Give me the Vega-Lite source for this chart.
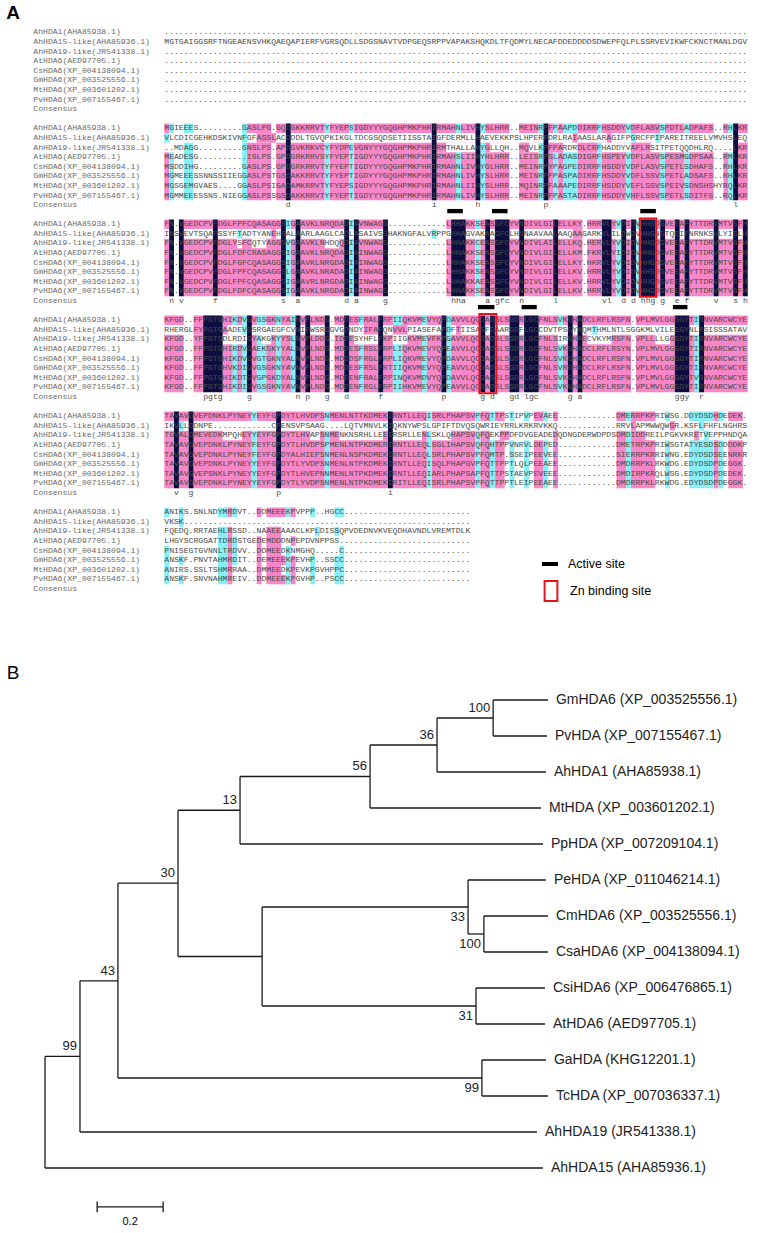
{
"$schema":"https://vega.github.io/schema/vega-lite/v6.json",
"width":776,"height":1233,"padding":0,"autosize":{"type":"none"},
"config":{"view":{"stroke":null},"legend":{"labelFont":"Liberation Sans","labelFontSize":12.5,"labelColor":"#000","padding":0,"labelOffset":10,"symbolSize":256,"titlePadding":0}},
"datasets":{
"rows":[
{"g":0,"name":"AhHDA1(AHA85938.1)","seq":"........................................................................................................................"},
{"g":1,"name":"AhHDA15-like(AHA85936.1)","seq":"MGTGAIGGSRFTNGEAENSVHKQAEQAPIERFVGRSQDLLSDGSNAVTVDPGEQSRPPVAPAKSHQKDLTFQDMYLNECAFDDEDDDDSDWEPFQLPLSSRVEVIKWFCKNCTMANLDGV"},
{"g":2,"name":"AhHDA19-like(JR541338.1)","seq":"........................................................................................................................"},
{"g":3,"name":"AtHDA6(AED97705.1)","seq":"........................................................................................................................"},
{"g":4,"name":"CsHDA6(XP_004138094.1)","seq":"........................................................................................................................"},
{"g":5,"name":"GmHDA6(XP_003525556.1)","seq":"........................................................................................................................"},
{"g":6,"name":"MtHDA6(XP_003601202.1)","seq":"........................................................................................................................"},
{"g":7,"name":"PvHDA6(XP_007155467.1)","seq":"........................................................................................................................"},
{"g":8,"name":"Consensus","seq":""},
{"g":10,"name":"AhHDA1(AHA85938.1)","seq":"MGIEEES.........GASLPG.GQDGKKRRVTYFYEPSIGDYYYGQGHPMKPHRIRMAHNLIVHYSLHRR..MEINRPFPAAPDDIRRFHSDDYVDFLASVSPDTLADPAFS..RHLKR"},
{"g":11,"name":"AhHDA15-like(AHA85936.1)","seq":"VLCDICGEHKDSKIVNFGFASSLACDDDLTGVQPKIKGLTDCGSQDSETIISSTAIGFDERMLLHAEVEKKPSLHPERPDRLRAIAASLARAGIFPGRCFPIPAREITREELVMVHSLEQ"},
{"g":12,"name":"AhHDA19-like(JR541338.1)","seq":"..MDAGG.........GNSLPS.APDGVKRKVCYFYDPEVGNYYYGQGHPMKPHRIRMTHALLAHYGLLQH..MQVLKPFPARDRDLCRFHADDYVAFLRSITPETQQDHLRQ....LKR"},
{"g":13,"name":"AtHDA6(AED97705.1)","seq":"MEADESG..........ISLPS.GPDGRKRRVSYFYEPTIGDYYYGQGHPMKPHRIRMAHSLIIHYHLHRR..LEISRPSLADASDIGRFHSPEYVDFLASVSPESMGDPSAA..RMLKR"},
{"g":14,"name":"CsHDA6(XP_004138094.1)","seq":"MSDDIHG.........GASLPS.GPDGRKRRVTYFYEPTIGDYYYGQGHPMKPHRIRMAHNLIVHYGLHRR..MEINRPYPAGPEDIRRFHSDDYVDFLASVSPETLSDHAFS..RHLKR"},
{"g":15,"name":"GmHDA6(XP_003525556.1)","seq":"MGMEEESSNNSSIIEGGASLPSTGSDAKKRRVTYFYEPTIGDYYYGQGHPMKPHRIRMAHNLIVHYSLHRR..MEINRPFPASPADIRRFHSDDYVDFLSSVSPETLADSAFS..RHLKR"},
{"g":16,"name":"MtHDA6(XP_003601202.1)","seq":"MGSGEMGVAES....GGASLPSIGADAMKRRVTYFYEPSIGDYYYGQGHPMKPHRIRMAHNLIIHYSLHRR..MQINRPFAAAPEDIRRFHSDDYVEFLSSVSPEIVSDNSHSHYRQLKR"},
{"g":17,"name":"PvHDA6(XP_007155467.1)","seq":"MGMMEEESSNS.NIEGGASLPSSGSDAKKRRVTYFYEPTIGDYYYGQGHPMKPHRIRMAHNLIVHYSLHRR..MEINRPFPASTADIRRFHSDDYVHFLSSVSPETLSDITFS..RQLKR"},
{"g":18,"name":"Consensus","seq":""},
{"g":20,"name":"AhHDA1(AHA85938.1)","seq":"FN.VGEDCPVFDGLFPFCQASAGGSIGAAVKLNRQDADIAVNWAGG............LHHAKKSEASGFCYVNDIVLGILELLKY.HRRVLYVDIDVHHGDGVEEAFYTTDRVMTVSFH"},
{"g":21,"name":"AhHDA15-like(AHA85936.1)","seq":"INSVEVTSQAFSSYFTADTYANEHSALAARLAAGLCADLASAIVSGHAKNGFALVRPPGHHAGVAKAAGFCLHNNAAVAALAAQAAGARKVLILDWDVHHGNGTQEIFNRNKSVLYISLH"},
{"g":22,"name":"AhHDA19-like(JR541338.1)","seq":"FN.VGEDCPVFDGLYSFCQTYAGGSVGAAVKLNHDQQDIAVNWAGG............LHHAKKCEASGFCYVNDIVLAILELLKQ.HERVLYVDIDVHHGDGVEEAFYTTDRVMTVSFH"},
{"g":23,"name":"AtHDA6(AED97705.1)","seq":"FN.VGEDCPVFDGLFDFCRASAGGSIGAAVKLNRQDADIAINWAGG............LHHAKKSEASGFCYVNDIVLGILELLKM.FKRVLYIDIDVHHGDGVEEAFYTTDRVMTVSFH"},
{"g":24,"name":"CsHDA6(XP_004138094.1)","seq":"FN.VGEDCPVFDGLFGFCQASAGGSIGAAVKLNRGDADIAINWAGG............LHHAKKSEASGFCYVNDIVLGILELLKY.HKRVLYVDIDVHHGDGVEEAFYTTDRVMTVSFH"},
{"g":25,"name":"GmHDA6(XP_003525556.1)","seq":"FN.VGEDCPVFDGLFPFCQASAGGSLGAAVKLNRADADIAINWAGG............LHHAKKSEASGFCYVNDIVLGILELLKV.HRRVLYVDIDVHHGDGVEEAFYTTDRVMTVSFH"},
{"g":26,"name":"MtHDA6(XP_003601202.1)","seq":"FN.VGEDCPVFDGLFPFCQASAGGSIGAAVRLNRGDADIAINWAGG............LHHAKKAEASGFCYVNDIVLGILELLKV.HRRVLYVDIDVHHGDGVEEAFYTTDRVMTVSFH"},
{"g":27,"name":"PvHDA6(XP_007155467.1)","seq":"FN.VGEDCPVFDGLFDFCQASAGGSIGAAVKLNRGDADIAINWAGG............LHHAKKSEASGFCYVNDIVLGILELLKV.HRRVLYVDIDVHHGDGVEEAFYTTDRVMTVSFH"},
{"g":28,"name":"Consensus","seq":""},
{"g":30,"name":"AhHDA1(AHA85938.1)","seq":"KFGD..FFPGTGHIKDVGVGSGKNYAINVPLNDG.MDDESFRALFRPIIQKVMEVYQPDAVVLQCGADSLSGDRLGCFNLSVKGHADCLRFLRSFN.VPLMVLGGGGYTIRNVARCWCYE"},
{"g":31,"name":"AhHDA15-like(AHA85936.1)","seq":"RHERGLFYPGTGAADEVGSRGAEGFCVNIPWSRGGVGDNDYIFAFQNVVLPIASEFAPDFTIISAGFDAARGDFLGCCDVTPSGYAQMTHMLNTLSGGKMLVILEGGYNLRSISSSATAV"},
{"g":32,"name":"AhHDA19-like(JR541338.1)","seq":"KFGD..YFPGTGDLRDIGYAKGKYYSLNVPLDDG.IDDESYHFLFKPIIGKVMEVFKPGAVVLQCGADSLSGDRLGCFNLSIRGHAECVKYMRSFN.VPLLLLGGGGYTIRNVARCWCYE"},
{"g":33,"name":"AtHDA6(AED97705.1)","seq":"KFGD..FFPGTGHIRDVGAEKGKYYALNVPLNDG.MDDESFRSLFRPLIQKVMEVYQPEAVVLQCGADSLSGDRLGCFNLSVKGHADCLRFLRSYN.VPLMVLGGGGYTIRNVARCWCYE"},
{"g":34,"name":"CsHDA6(XP_004138094.1)","seq":"KFGD..FFPGTGHIKDVGVGTGKNYALNVPLNDG.MDDDSFRGLFRPLIQKVMEVYQPDAVVLQCGADSLSGDRLGCFNLSVKGHADCLRFLRSFN.VPLMVLGGGGYTIRNVARCWCYE"},
{"g":35,"name":"GmHDA6(XP_003525556.1)","seq":"KFGD..FFPGTGHVKDIGVGSGKNYAVNVPLNDG.MDDESFRSLFRTIIQKVMEVYQPEAVVLQCGADSLSGDRLGCFNLSVRGHADCLRFLRSFN.VPLMVLGGGGYTIRNVARCWCYE"},
{"g":36,"name":"MtHDA6(XP_003601202.1)","seq":"KFGD..FFPGTGHIKDTGVGPGKDYALNVPLNDG.MDDENFRALFRPINQKVMDVYQPDAVVLQCGADSLSGDRLGCFNLSVKGHADCLRFLRSFN.VPLMVLGGGGYTVRNVARCWCYE"},
{"g":37,"name":"PvHDA6(XP_007155467.1)","seq":"KFGD..FFPGTGHIKDIGVGSGKNYAVNVPLNDG.MDDENFRGLFRPIIHKVMEVYQPEAVVLQCGADSLSGDRLGCFNLSVKGHADCLRFLRSFN.VPLMVLGGGGYTIRNVARCWCYE"},
{"g":38,"name":"Consensus","seq":""},
{"g":40,"name":"AhHDA1(AHA85938.1)","seq":"TAVAVGVEPDNKLPYNEYYEYFGPDYTLHVDPSNMENLNTTKDMEKIRNTLLEQISRLPHAPSVPFQTTPSTIPVPEVAEE............DMERRPKPRIWSG.DDYDSDHDEDEK."},
{"g":41,"name":"AhHDA15-like(AHA85936.1)","seq":"IKVLLGDNPE............CPENSVPSAAG....LQTVMNVLKIQKNYWPSLGPIFTDVQSQWRIEYRRLKRKRVKKQ............RRVLAPMWWQWGR.KSFLFHFLNGHRS"},
{"g":42,"name":"AhHDA19-like(JR541338.1)","seq":"TGVALGMEVEDKMPQHEYYEYFGPDYTLHVAPSNMENKNSRHLLEEIRSRLLENLSKLQHAPSVQFQEKPPDFDVGEADEDQDNGDERWDPDSDMDIDDREILPGKVKRETVEPPHNDQA"},
{"g":43,"name":"AtHDA6(AED97705.1)","seq":"TAVAVGVEPDNKLPYNEYFEYFGPDYTLHVDPSPMENLNTPKDMERIRNTLLEQLSGLIHAPSVQFQHTPPVNRVLDEPED............DMETRPKPRIWSGTATYESDSDDDDKP"},
{"g":44,"name":"CsHDA6(XP_004138094.1)","seq":"TAVAVGVEPDNKLPYNEYFEYFGPDYALHIEPSNMENLNSPKDMEKIRNTLLEQLSRLPHAPSVPFQMTP.SSEIPEEVEE............SIERRPKRRIWNG.EDYDSDSEENRKR"},
{"g":45,"name":"GmHDA6(XP_003525556.1)","seq":"TAVAVGVEPDNKLPYNEYYEYFGPDYTLYVDPSNMENLNTPKDMEKIRNTLLEQISQLPHAPGVPFQTTPPTLQLPEEAEE............DMDRRPKLRKWDG.EDYDSDPDEGGK."},
{"g":46,"name":"MtHDA6(XP_003601202.1)","seq":"TAVAVGVEPSNKLPYNEYYEYFGPDYTLHVEPNNMENLNTPKDMEKIRNTLLEQIARLPHAPSAPFQTTPSTAEVPEVEEE............DMDIRPKRQLWSG.EDYDSDPDEDEK."},
{"g":47,"name":"PvHDA6(XP_007155467.1)","seq":"TAVAVGVEPDNKLPYNEYYEYFGPDYTLYVDPSNMENLNTPKDMEKIRITLLEQISRLPHAPSVPFQTTPPTLEIPEEAEE............DMDRRPKLRKWDG.EDYDSDPDEGGK."},
{"g":48,"name":"Consensus","seq":""},
{"g":50,"name":"AhHDA1(AHA85938.1)","seq":"ANIKS.SNLNDYMRDVT..DDMEEEKPVPPP..HGCC.........................."},
{"g":51,"name":"AhHDA15-like(AHA85936.1)","seq":"VKSK..........................................................."},
{"g":52,"name":"AhHDA19-like(JR541338.1)","seq":"FQEDQ.RRTAEHLRSSD..NAAEEAAACLKPLDISSQPVDEDNVKVEQDHAVNDLVREMTDLK"},
{"g":53,"name":"AtHDA6(AED97705.1)","seq":"LHGYSCRGGATTDRDSTGEDEMDDDNPEPDVNPPSS..........................."},
{"g":54,"name":"CsHDA6(XP_004138094.1)","seq":"PNISEGTGVNNLTRDVV..DDMEEDKNMGHQ.....C.........................."},
{"g":55,"name":"GmHDA6(XP_003525556.1)","seq":"ANSKF.PNVTAHMRDIT..DEMEEEKPEVHP..SSCC.........................."},
{"g":56,"name":"MtHDA6(XP_003601202.1)","seq":"ANIRS.SSLTSHMRRAA..DMMEEDKPEVKPGVHPPC.........................."},
{"g":57,"name":"PvHDA6(XP_007155467.1)","seq":"ANSKF.SNVNAHMREIV..DDMEEEKPGVHP..PSCC.........................."},
{"g":58,"name":"Consensus","seq":""}
],
"cons":[
{"g":18,"c":25,"t":"d"},{"g":18,"c":55,"t":"i"},{"g":18,"c":64,"t":"h"},{"g":18,"c":78,"t":"p"},{"g":18,"c":117,"t":"l"},
{"g":28,"c":1,"t":"n"},{"g":28,"c":3,"t":"v"},{"g":28,"c":10,"t":"f"},{"g":28,"c":24,"t":"s"},{"g":28,"c":27,"t":"a"},{"g":28,"c":37,"t":"d"},{"g":28,"c":39,"t":"a"},{"g":28,"c":45,"t":"g"},{"g":28,"c":59,"t":"h"},{"g":28,"c":60,"t":"h"},{"g":28,"c":61,"t":"a"},{"g":28,"c":66,"t":"a"},{"g":28,"c":68,"t":"g"},{"g":28,"c":69,"t":"f"},{"g":28,"c":70,"t":"c"},{"g":28,"c":73,"t":"n"},{"g":28,"c":80,"t":"l"},{"g":28,"c":90,"t":"v"},{"g":28,"c":91,"t":"l"},{"g":28,"c":94,"t":"d"},{"g":28,"c":96,"t":"d"},{"g":28,"c":98,"t":"h"},{"g":28,"c":99,"t":"h"},{"g":28,"c":100,"t":"g"},{"g":28,"c":102,"t":"g"},{"g":28,"c":105,"t":"e"},{"g":28,"c":107,"t":"f"},{"g":28,"c":113,"t":"v"},{"g":28,"c":117,"t":"s"},{"g":28,"c":119,"t":"h"},
{"g":38,"c":8,"t":"p"},{"g":38,"c":9,"t":"g"},{"g":38,"c":10,"t":"t"},{"g":38,"c":11,"t":"g"},{"g":38,"c":17,"t":"g"},{"g":38,"c":27,"t":"n"},{"g":38,"c":29,"t":"p"},{"g":38,"c":33,"t":"g"},{"g":38,"c":37,"t":"d"},{"g":38,"c":44,"t":"f"},{"g":38,"c":57,"t":"p"},{"g":38,"c":65,"t":"g"},{"g":38,"c":67,"t":"d"},{"g":38,"c":71,"t":"g"},{"g":38,"c":72,"t":"d"},{"g":38,"c":74,"t":"l"},{"g":38,"c":75,"t":"g"},{"g":38,"c":76,"t":"c"},{"g":38,"c":83,"t":"g"},{"g":38,"c":85,"t":"a"},{"g":38,"c":105,"t":"g"},{"g":38,"c":106,"t":"g"},{"g":38,"c":107,"t":"y"},{"g":38,"c":110,"t":"r"},
{"g":48,"c":2,"t":"v"},{"g":48,"c":5,"t":"g"},{"g":48,"c":23,"t":"p"},{"g":48,"c":46,"t":"i"}
],
"segs":[
{"x0":0,"x1":1,"y0":10,"y1":18,"k":"m"},{"x0":17,"x1":22,"y0":10,"y1":18,"k":"m"},{"x0":23,"x1":25,"y0":10,"y1":18,"k":"m"},{"x0":26,"x1":33,"y0":10,"y1":18,"k":"m"},{"x0":34,"x1":38,"y0":10,"y1":18,"k":"m"},{"x0":39,"x1":55,"y0":10,"y1":18,"k":"m"},{"x0":56,"x1":60,"y0":10,"y1":18,"k":"m"},{"x0":61,"x1":64,"y0":10,"y1":18,"k":"m"},{"x0":66,"x1":71,"y0":10,"y1":18,"k":"m"},{"x0":73,"x1":77,"y0":10,"y1":18,"k":"m"},{"x0":79,"x1":80,"y0":10,"y1":18,"k":"m"},{"x0":81,"x1":82,"y0":10,"y1":18,"k":"m"},{"x0":85,"x1":89,"y0":10,"y1":18,"k":"m"},{"x0":90,"x1":95,"y0":10,"y1":18,"k":"m"},{"x0":96,"x1":102,"y0":10,"y1":18,"k":"m"},{"x0":103,"x1":107,"y0":10,"y1":18,"k":"m"},{"x0":108,"x1":113,"y0":10,"y1":18,"k":"m"},{"x0":115,"x1":116,"y0":10,"y1":18,"k":"m"},{"x0":118,"x1":120,"y0":10,"y1":18,"k":"m"},
{"x0":1,"x1":2,"y0":10,"y1":18,"k":"c"},{"x0":4,"x1":6,"y0":10,"y1":18,"k":"c"},{"x0":16,"x1":17,"y0":10,"y1":18,"k":"c"},{"x0":33,"x1":34,"y0":10,"y1":18,"k":"c"},{"x0":38,"x1":39,"y0":10,"y1":18,"k":"c"},{"x0":60,"x1":61,"y0":10,"y1":18,"k":"c"},{"x0":65,"x1":66,"y0":10,"y1":18,"k":"c"},{"x0":77,"x1":78,"y0":10,"y1":18,"k":"c"},{"x0":80,"x1":81,"y0":10,"y1":18,"k":"c"},{"x0":82,"x1":85,"y0":10,"y1":18,"k":"c"},{"x0":89,"x1":90,"y0":10,"y1":18,"k":"c"},{"x0":95,"x1":96,"y0":10,"y1":18,"k":"c"},{"x0":102,"x1":103,"y0":10,"y1":18,"k":"c"},{"x0":107,"x1":108,"y0":10,"y1":18,"k":"c"},{"x0":116,"x1":117,"y0":10,"y1":18,"k":"c"},
{"x0":0,"x1":120,"y0":11,"y1":12,"k":"w"},
{"x0":19,"x1":23,"y0":11,"y1":12,"k":"m"},{"x0":84,"x1":85,"y0":11,"y1":12,"k":"m"},{"x0":91,"x1":92,"y0":11,"y1":12,"k":"m"},{"x0":0,"x1":1,"y0":11,"y1":12,"k":"c"},{"x0":16,"x1":17,"y0":11,"y1":12,"k":"c"},{"x0":96,"x1":97,"y0":11,"y1":12,"k":"c"},{"x0":101,"x1":102,"y0":11,"y1":12,"k":"c"},
{"x0":0,"x1":2,"y0":12,"y1":13,"k":"w"},{"x0":56,"x1":120,"y0":12,"y1":13,"k":"w"},
{"x0":56,"x1":58,"y0":12,"y1":13,"k":"m"},{"x0":66,"x1":67,"y0":12,"y1":13,"k":"m"},{"x0":73,"x1":75,"y0":12,"y1":13,"k":"m"},{"x0":79,"x1":82,"y0":12,"y1":13,"k":"m"},{"x0":85,"x1":89,"y0":12,"y1":13,"k":"m"},{"x0":96,"x1":100,"y0":12,"y1":13,"k":"m"},{"x0":118,"x1":120,"y0":12,"y1":13,"k":"m"},{"x0":65,"x1":66,"y0":12,"y1":13,"k":"c"},{"x0":77,"x1":78,"y0":12,"y1":13,"k":"c"},{"x0":89,"x1":90,"y0":12,"y1":13,"k":"c"},
{"x0":25,"x1":26,"y0":10,"y1":18,"k":"d"},{"x0":55,"x1":56,"y0":10,"y1":18,"k":"d"},{"x0":64,"x1":65,"y0":10,"y1":18,"k":"d"},{"x0":78,"x1":79,"y0":10,"y1":18,"k":"d"},{"x0":117,"x1":118,"y0":10,"y1":18,"k":"d"},

{"x0":0,"x1":1,"y0":20,"y1":28,"k":"m"},{"x0":4,"x1":10,"y0":20,"y1":28,"k":"m"},{"x0":11,"x1":24,"y0":20,"y1":28,"k":"m"},{"x0":26,"x1":27,"y0":20,"y1":28,"k":"m"},{"x0":28,"x1":37,"y0":20,"y1":28,"k":"m"},{"x0":40,"x1":45,"y0":20,"y1":28,"k":"m"},{"x0":58,"x1":59,"y0":20,"y1":28,"k":"m"},{"x0":62,"x1":64,"y0":20,"y1":28,"k":"m"},{"x0":65,"x1":66,"y0":20,"y1":28,"k":"m"},{"x0":67,"x1":68,"y0":20,"y1":28,"k":"m"},{"x0":71,"x1":73,"y0":20,"y1":28,"k":"m"},{"x0":74,"x1":80,"y0":20,"y1":28,"k":"m"},{"x0":81,"x1":86,"y0":20,"y1":28,"k":"m"},{"x0":87,"x1":90,"y0":20,"y1":28,"k":"m"},{"x0":92,"x1":93,"y0":20,"y1":28,"k":"m"},{"x0":95,"x1":96,"y0":20,"y1":28,"k":"m"},{"x0":101,"x1":102,"y0":20,"y1":28,"k":"m"},{"x0":103,"x1":105,"y0":20,"y1":28,"k":"m"},{"x0":106,"x1":107,"y0":20,"y1":28,"k":"m"},{"x0":108,"x1":113,"y0":20,"y1":28,"k":"m"},{"x0":114,"x1":117,"y0":20,"y1":28,"k":"m"},{"x0":118,"x1":119,"y0":20,"y1":28,"k":"m"},
{"x0":25,"x1":26,"y0":20,"y1":28,"k":"c"},{"x0":38,"x1":39,"y0":20,"y1":28,"k":"c"},{"x0":64,"x1":65,"y0":20,"y1":28,"k":"c"},{"x0":93,"x1":94,"y0":20,"y1":28,"k":"c"},{"x0":97,"x1":98,"y0":20,"y1":28,"k":"c"},
{"x0":0,"x1":120,"y0":21,"y1":22,"k":"w"},
{"x0":22,"x1":23,"y0":21,"y1":22,"k":"m"},{"x0":84,"x1":86,"y0":21,"y1":22,"k":"m"},{"x0":15,"x1":16,"y0":21,"y1":22,"k":"c"},{"x0":55,"x1":56,"y0":21,"y1":22,"k":"c"},
{"x0":15,"x1":16,"y0":22,"y1":23,"k":"w"},{"x0":18,"x1":21,"y0":22,"y1":23,"k":"w"},{"x0":33,"x1":36,"y0":22,"y1":23,"k":"w"},
{"x0":1,"x1":2,"y0":20,"y1":28,"k":"d"},{"x0":3,"x1":4,"y0":20,"y1":28,"k":"d"},{"x0":10,"x1":11,"y0":20,"y1":28,"k":"d"},{"x0":24,"x1":25,"y0":20,"y1":28,"k":"d"},{"x0":27,"x1":28,"y0":20,"y1":28,"k":"d"},{"x0":37,"x1":38,"y0":20,"y1":28,"k":"d"},{"x0":39,"x1":40,"y0":20,"y1":28,"k":"d"},{"x0":45,"x1":46,"y0":20,"y1":28,"k":"d"},{"x0":59,"x1":62,"y0":20,"y1":28,"k":"d"},{"x0":66,"x1":67,"y0":20,"y1":28,"k":"d"},{"x0":68,"x1":71,"y0":20,"y1":28,"k":"d"},{"x0":73,"x1":74,"y0":20,"y1":28,"k":"d"},{"x0":80,"x1":81,"y0":20,"y1":28,"k":"d"},{"x0":90,"x1":92,"y0":20,"y1":28,"k":"d"},{"x0":94,"x1":95,"y0":20,"y1":28,"k":"d"},{"x0":96,"x1":97,"y0":20,"y1":28,"k":"d"},{"x0":98,"x1":101,"y0":20,"y1":28,"k":"d"},{"x0":102,"x1":103,"y0":20,"y1":28,"k":"d"},{"x0":105,"x1":106,"y0":20,"y1":28,"k":"d"},{"x0":107,"x1":108,"y0":20,"y1":28,"k":"d"},{"x0":113,"x1":114,"y0":20,"y1":28,"k":"d"},{"x0":117,"x1":118,"y0":20,"y1":28,"k":"d"},{"x0":119,"x1":120,"y0":20,"y1":28,"k":"d"},

{"x0":0,"x1":4,"y0":30,"y1":38,"k":"m"},{"x0":6,"x1":8,"y0":30,"y1":38,"k":"m"},{"x0":12,"x1":17,"y0":30,"y1":38,"k":"m"},{"x0":18,"x1":27,"y0":30,"y1":38,"k":"m"},{"x0":28,"x1":29,"y0":30,"y1":38,"k":"m"},{"x0":30,"x1":33,"y0":30,"y1":38,"k":"m"},{"x0":35,"x1":37,"y0":30,"y1":38,"k":"m"},{"x0":38,"x1":44,"y0":30,"y1":38,"k":"m"},{"x0":45,"x1":57,"y0":30,"y1":38,"k":"m"},{"x0":58,"x1":65,"y0":30,"y1":38,"k":"m"},{"x0":66,"x1":67,"y0":30,"y1":38,"k":"m"},{"x0":68,"x1":71,"y0":30,"y1":38,"k":"m"},{"x0":73,"x1":74,"y0":30,"y1":38,"k":"m"},{"x0":77,"x1":83,"y0":30,"y1":38,"k":"m"},{"x0":84,"x1":85,"y0":30,"y1":38,"k":"m"},{"x0":86,"x1":96,"y0":30,"y1":38,"k":"m"},{"x0":97,"x1":105,"y0":30,"y1":38,"k":"m"},{"x0":108,"x1":110,"y0":30,"y1":38,"k":"m"},{"x0":111,"x1":120,"y0":30,"y1":38,"k":"m"},
{"x0":14,"x1":15,"y0":30,"y1":38,"k":"c"},{"x0":16,"x1":17,"y0":30,"y1":38,"k":"c"},{"x0":19,"x1":21,"y0":30,"y1":38,"k":"c"},{"x0":23,"x1":24,"y0":30,"y1":38,"k":"c"},{"x0":26,"x1":27,"y0":30,"y1":38,"k":"c"},{"x0":40,"x1":41,"y0":30,"y1":38,"k":"c"},{"x0":47,"x1":49,"y0":30,"y1":38,"k":"c"},{"x0":53,"x1":54,"y0":30,"y1":38,"k":"c"},{"x0":58,"x1":59,"y0":30,"y1":38,"k":"c"},{"x0":81,"x1":82,"y0":30,"y1":38,"k":"c"},{"x0":109,"x1":110,"y0":30,"y1":38,"k":"c"},
{"x0":0,"x1":120,"y0":31,"y1":32,"k":"w"},
{"x0":6,"x1":8,"y0":31,"y1":32,"k":"m"},{"x0":12,"x1":13,"y0":31,"y1":32,"k":"m"},{"x0":41,"x1":44,"y0":31,"y1":32,"k":"m"},{"x0":47,"x1":50,"y0":31,"y1":32,"k":"m"},{"x0":60,"x1":61,"y0":31,"y1":32,"k":"m"},{"x0":16,"x1":17,"y0":31,"y1":32,"k":"c"},{"x0":58,"x1":59,"y0":31,"y1":32,"k":"c"},{"x0":88,"x1":89,"y0":31,"y1":32,"k":"c"},
{"x0":12,"x1":17,"y0":32,"y1":33,"k":"w"},{"x0":20,"x1":22,"y0":32,"y1":33,"k":"w"},{"x0":39,"x1":44,"y0":32,"y1":33,"k":"w"},{"x0":47,"x1":50,"y0":32,"y1":33,"k":"w"},{"x0":81,"x1":83,"y0":32,"y1":33,"k":"w"},{"x0":87,"x1":92,"y0":32,"y1":33,"k":"w"},{"x0":101,"x1":104,"y0":32,"y1":33,"k":"w"},
{"x0":8,"x1":12,"y0":30,"y1":38,"k":"d"},{"x0":17,"x1":18,"y0":30,"y1":38,"k":"d"},{"x0":27,"x1":28,"y0":30,"y1":38,"k":"d"},{"x0":29,"x1":30,"y0":30,"y1":38,"k":"d"},{"x0":33,"x1":34,"y0":30,"y1":38,"k":"d"},{"x0":37,"x1":38,"y0":30,"y1":38,"k":"d"},{"x0":44,"x1":45,"y0":30,"y1":38,"k":"d"},{"x0":57,"x1":58,"y0":30,"y1":38,"k":"d"},{"x0":65,"x1":66,"y0":30,"y1":38,"k":"d"},{"x0":67,"x1":68,"y0":30,"y1":38,"k":"d"},{"x0":71,"x1":73,"y0":30,"y1":38,"k":"d"},{"x0":74,"x1":77,"y0":30,"y1":38,"k":"d"},{"x0":83,"x1":84,"y0":30,"y1":38,"k":"d"},{"x0":85,"x1":86,"y0":30,"y1":38,"k":"d"},{"x0":105,"x1":108,"y0":30,"y1":38,"k":"d"},{"x0":110,"x1":111,"y0":30,"y1":38,"k":"d"},

{"x0":0,"x1":2,"y0":40,"y1":48,"k":"m"},{"x0":3,"x1":5,"y0":40,"y1":48,"k":"m"},{"x0":6,"x1":18,"y0":40,"y1":48,"k":"m"},{"x0":19,"x1":23,"y0":40,"y1":48,"k":"m"},{"x0":24,"x1":33,"y0":40,"y1":48,"k":"m"},{"x0":34,"x1":46,"y0":40,"y1":48,"k":"m"},{"x0":47,"x1":54,"y0":40,"y1":48,"k":"m"},{"x0":55,"x1":64,"y0":40,"y1":48,"k":"m"},{"x0":65,"x1":67,"y0":40,"y1":48,"k":"m"},{"x0":68,"x1":70,"y0":40,"y1":48,"k":"m"},{"x0":76,"x1":78,"y0":40,"y1":48,"k":"m"},{"x0":80,"x1":81,"y0":40,"y1":48,"k":"m"},{"x0":93,"x1":95,"y0":40,"y1":48,"k":"m"},{"x0":96,"x1":101,"y0":40,"y1":48,"k":"m"},{"x0":113,"x1":114,"y0":40,"y1":48,"k":"m"},{"x0":116,"x1":119,"y0":40,"y1":48,"k":"m"},
{"x0":18,"x1":19,"y0":40,"y1":48,"k":"c"},{"x0":33,"x1":34,"y0":40,"y1":48,"k":"c"},{"x0":54,"x1":55,"y0":40,"y1":48,"k":"c"},{"x0":64,"x1":65,"y0":40,"y1":48,"k":"c"},{"x0":67,"x1":68,"y0":40,"y1":48,"k":"c"},{"x0":71,"x1":72,"y0":40,"y1":48,"k":"c"},{"x0":74,"x1":75,"y0":40,"y1":48,"k":"c"},{"x0":78,"x1":79,"y0":40,"y1":48,"k":"c"},{"x0":95,"x1":96,"y0":40,"y1":48,"k":"c"},{"x0":103,"x1":104,"y0":40,"y1":48,"k":"c"},{"x0":108,"x1":113,"y0":40,"y1":48,"k":"c"},{"x0":114,"x1":115,"y0":40,"y1":48,"k":"c"},
{"x0":0,"x1":120,"y0":41,"y1":42,"k":"w"},
{"x0":96,"x1":97,"y0":41,"y1":42,"k":"m"},{"x0":104,"x1":105,"y0":41,"y1":42,"k":"m"},{"x0":3,"x1":4,"y0":41,"y1":42,"k":"c"},{"x0":110,"x1":111,"y0":41,"y1":42,"k":"c"},
{"x0":12,"x1":16,"y0":42,"y1":43,"k":"w"},{"x0":30,"x1":32,"y0":42,"y1":43,"k":"w"},{"x0":36,"x1":45,"y0":42,"y1":43,"k":"w"},{"x0":47,"x1":53,"y0":42,"y1":43,"k":"w"},{"x0":55,"x1":59,"y0":42,"y1":43,"k":"w"},{"x0":67,"x1":93,"y0":42,"y1":43,"k":"w"},{"x0":99,"x1":120,"y0":42,"y1":43,"k":"w"},
{"x0":69,"x1":71,"y0":42,"y1":43,"k":"m"},{"x0":80,"x1":81,"y0":42,"y1":43,"k":"m"},{"x0":109,"x1":110,"y0":42,"y1":43,"k":"m"},{"x0":111,"x1":112,"y0":42,"y1":43,"k":"c"},
{"x0":2,"x1":3,"y0":40,"y1":48,"k":"d"},{"x0":5,"x1":6,"y0":40,"y1":48,"k":"d"},{"x0":23,"x1":24,"y0":40,"y1":48,"k":"d"},{"x0":46,"x1":47,"y0":40,"y1":48,"k":"d"},

{"x0":0,"x1":1,"y0":50,"y1":51,"k":"c"},{"x0":0,"x1":1,"y0":54,"y1":58,"k":"c"},{"x0":3,"x1":4,"y0":50,"y1":52,"k":"c"},{"x0":3,"x1":4,"y0":55,"y1":56,"k":"c"},{"x0":3,"x1":4,"y0":57,"y1":58,"k":"c"},
{"x0":11,"x1":13,"y0":50,"y1":51,"k":"c"},{"x0":11,"x1":13,"y0":52,"y1":58,"k":"c"},{"x0":13,"x1":14,"y0":50,"y1":51,"k":"m"},{"x0":13,"x1":14,"y0":52,"y1":58,"k":"m"},{"x0":14,"x1":15,"y0":50,"y1":51,"k":"c"},{"x0":14,"x1":15,"y0":53,"y1":56,"k":"c"},
{"x0":19,"x1":20,"y0":50,"y1":51,"k":"m"},{"x0":19,"x1":20,"y0":53,"y1":58,"k":"m"},{"x0":21,"x1":24,"y0":50,"y1":51,"k":"m"},{"x0":21,"x1":24,"y0":52,"y1":58,"k":"m"},{"x0":24,"x1":25,"y0":50,"y1":51,"k":"m"},{"x0":24,"x1":25,"y0":55,"y1":56,"k":"m"},{"x0":24,"x1":25,"y0":57,"y1":58,"k":"m"},
{"x0":25,"x1":26,"y0":50,"y1":51,"k":"c"},{"x0":25,"x1":26,"y0":54,"y1":58,"k":"c"},{"x0":26,"x1":27,"y0":50,"y1":51,"k":"m"},{"x0":26,"x1":27,"y0":53,"y1":54,"k":"m"},{"x0":26,"x1":27,"y0":55,"y1":58,"k":"m"},
{"x0":30,"x1":31,"y0":50,"y1":51,"k":"c"},{"x0":30,"x1":31,"y0":55,"y1":58,"k":"c"},{"x0":31,"x1":32,"y0":52,"y1":53,"k":"c"},{"x0":35,"x1":36,"y0":52,"y1":53,"k":"c"},
{"x0":35,"x1":37,"y0":50,"y1":51,"k":"c"},{"x0":36,"x1":37,"y0":54,"y1":55,"k":"c"},{"x0":35,"x1":37,"y0":55,"y1":58,"k":"c"}
],
"feat":[
{"kind":"Active site","x0":58.2,"x1":61.4,"y0":18.9,"y1":19.35},
{"kind":"Active site","x0":67.4,"x1":70.6,"y0":18.9,"y1":19.35},
{"kind":"Active site","x0":97.9,"x1":101.1,"y0":18.9,"y1":19.35},
{"kind":"Active site","x0":64.5,"x1":67.9,"y0":28.9,"y1":29.35},
{"kind":"Active site","x0":73.5,"x1":76.6,"y0":28.9,"y1":29.35},
{"kind":"Active site","x0":104.6,"x1":107.6,"y0":28.9,"y1":29.35},
{"kind":"Zn binding site","x0":97.8,"x1":101.2,"y0":19.9,"y1":28.05},
{"kind":"Zn binding site","x0":64.8,"x1":68.3,"y0":29.85,"y1":38.1}
],
"tree":[
{"x":0,"x2":0.106,"y":9.9,"y2":9.9},{"x":0,"x2":1.509,"y":13,"y2":13},
{"x":0.106,"x2":0.221,"y":7.8,"y2":7.8},{"x":0.106,"x2":1.491,"y":12,"y2":12},
{"x":0.221,"x2":0.403,"y":5.09,"y2":5.09},{"x":0.221,"x2":1.324,"y":10.5,"y2":10.5},
{"x":1.324,"x2":1.518,"y":10,"y2":10},{"x":1.324,"x2":1.524,"y":11,"y2":11},
{"x":0.403,"x2":0.591,"y":3.0625,"y2":3.0625},{"x":0.403,"x2":0.658,"y":7.125,"y2":7.125},
{"x":0.591,"x2":0.985,"y":2.125,"y2":2.125},{"x":0.591,"x2":1.509,"y":4,"y2":4},
{"x":0.985,"x2":1.188,"y":1.25,"y2":1.25},{"x":0.985,"x2":1.503,"y":3,"y2":3},
{"x":1.188,"x2":1.358,"y":0.5,"y2":0.5},{"x":1.188,"x2":1.518,"y":2,"y2":2},
{"x":1.358,"x2":1.524,"y":0,"y2":0},{"x":1.358,"x2":1.521,"y":1,"y2":1},
{"x":0.658,"x2":1.282,"y":5.75,"y2":5.75},{"x":0.658,"x2":1.306,"y":8.5,"y2":8.5},
{"x":1.282,"x2":1.518,"y":5,"y2":5},{"x":1.282,"x2":1.33,"y":6.5,"y2":6.5},
{"x":1.33,"x2":1.524,"y":6,"y2":6},{"x":1.33,"x2":1.524,"y":7,"y2":7},
{"x":1.306,"x2":1.515,"y":8,"y2":8},{"x":1.306,"x2":1.515,"y":9,"y2":9},
{"x":0,"x2":0,"y":9.9,"y2":13},{"x":0.106,"x2":0.106,"y":7.8,"y2":12},
{"x":0.221,"x2":0.221,"y":5.09,"y2":10.5},{"x":1.324,"x2":1.324,"y":10,"y2":11},
{"x":0.403,"x2":0.403,"y":3.0625,"y2":7.125},{"x":0.591,"x2":0.591,"y":2.125,"y2":4},
{"x":0.985,"x2":0.985,"y":1.25,"y2":3},{"x":1.188,"x2":1.188,"y":0.5,"y2":2},
{"x":1.358,"x2":1.358,"y":0,"y2":1},{"x":0.658,"x2":0.658,"y":5.75,"y2":8.5},
{"x":1.282,"x2":1.282,"y":5,"y2":6.5},{"x":1.33,"x2":1.33,"y":6,"y2":7},
{"x":1.306,"x2":1.306,"y":8,"y2":9},
{"x":0.158,"x2":0.358,"y":14.08,"y2":14.08},{"x":0.158,"x2":0.158,"y":13.93,"y2":14.23},{"x":0.358,"x2":0.358,"y":13.93,"y2":14.23}
],
"leaves":[
{"i":0,"e":1.524,"name":"GmHDA6 (XP_003525556.1)"},
{"i":1,"e":1.521,"name":"PvHDA (XP_007155467.1)"},
{"i":2,"e":1.518,"name":"AhHDA1 (AHA85938.1)"},
{"i":3,"e":1.503,"name":"MtHDA (XP_003601202.1)"},
{"i":4,"e":1.509,"name":"PpHDA (XP_007209104.1)"},
{"i":5,"e":1.518,"name":"PeHDA (XP_011046214.1)"},
{"i":6,"e":1.524,"name":"CmHDA6 (XP_003525556.1)"},
{"i":7,"e":1.524,"name":"CsaHDA6 (XP_004138094.1)"},
{"i":8,"e":1.515,"name":"CsiHDA6 (XP_006476865.1)"},
{"i":9,"e":1.515,"name":"AtHDA6 (AED97705.1)"},
{"i":10,"e":1.518,"name":"GaHDA (KHG12201.1)"},
{"i":11,"e":1.524,"name":"TcHDA (XP_007036337.1)"},
{"i":12,"e":1.491,"name":"AhHDA19 (JR541338.1)"},
{"i":13,"e":1.509,"name":"AhHDA15 (AHA85936.1)"}
],
"boot":[
{"v":"100","x":1.358,"y":0.5,"pos":"a"},
{"v":"36","x":1.188,"y":1.25,"pos":"a"},
{"v":"56","x":0.985,"y":2.125,"pos":"a"},
{"v":"13","x":0.591,"y":3.0625,"pos":"a"},
{"v":"30","x":0.403,"y":5.09,"pos":"a"},
{"v":"43","x":0.221,"y":7.8,"pos":"a"},
{"v":"99","x":0.106,"y":9.9,"pos":"a"},
{"v":"33","x":1.282,"y":5.75,"pos":"b"},
{"v":"100","x":1.33,"y":6.5,"pos":"b"},
{"v":"31","x":1.306,"y":8.5,"pos":"b"},
{"v":"99","x":1.324,"y":10.5,"pos":"b"}
],
"labelsA":[{"t":"A","c":-31.1,"g":-1.5}],
"labelsB":[{"t":"B","x":-0.097,"y":-0.75,"s":19,"w":"bold"},{"t":"0.2","x":0.258,"y":14.5,"s":11,"w":"normal"}]
},
"layer":[
{"layer":[
{"data":{"name":"segs"},"mark":{"type":"rect"},
 "encoding":{
  "x":{"field":"x0","type":"quantitative","scale":{"domain":[-33.793,125.812],"nice":false,"zero":false},"axis":null},
  "x2":{"field":"x1"},
  "y":{"field":"y0","type":"quantitative","scale":{"domain":[-2.8646,125.573],"nice":false,"zero":false,"reverse":true},"axis":null},
  "y2":{"field":"y1"},
  "color":{"field":"k","type":"nominal","scale":{"domain":["m","c","d","w"],"range":["#F886C8","#86F0F6","#0D0D3F","#FFFFFF"]},"legend":null}}},
{"data":{"name":"feat"},"transform":[{"filter":"datum.kind == 'Active site'"}],"mark":{"type":"rect"},
 "encoding":{
  "x":{"field":"x0","type":"quantitative","scale":{"domain":[-33.793,125.812],"nice":false,"zero":false},"axis":null},
  "x2":{"field":"x1"},
  "y":{"field":"y0","type":"quantitative","scale":{"domain":[-2.8646,125.573],"nice":false,"zero":false,"reverse":true},"axis":null},
  "y2":{"field":"y1"},
  "fill":{"field":"kind","type":"nominal","scale":{"domain":["Active site"],"range":["#000000"]},"legend":{"title":null,"orient":"none","legendX":542,"legendY":556,"symbolType":"M-1,-0.25H1V0.25H-1Z","symbolStrokeWidth":0}}}},
{"data":{"name":"rows"},"mark":{"type":"text","font":"Liberation Mono","fontSize":8.1,"align":"left","baseline":"middle","dy":4.8,"color":"#6a6a6a"},
 "encoding":{
  "x":{"datum":-26.94,"type":"quantitative","scale":{"domain":[-33.793,125.812],"nice":false,"zero":false},"axis":null},
  "y":{"field":"g","type":"quantitative","scale":{"domain":[-2.8646,125.573],"nice":false,"zero":false,"reverse":true},"axis":null},
  "text":{"field":"name"}}},
{"data":{"name":"rows"},"mark":{"type":"text","font":"Liberation Mono","fontSize":8.1,"align":"left","baseline":"middle","dy":4.8,"color":"#4a4a4a"},
 "encoding":{
  "x":{"datum":0,"type":"quantitative","scale":{"domain":[-33.793,125.812],"nice":false,"zero":false},"axis":null},
  "y":{"field":"g","type":"quantitative","scale":{"domain":[-2.8646,125.573],"nice":false,"zero":false,"reverse":true},"axis":null},
  "text":{"field":"seq"}}},
{"data":{"name":"cons"},"mark":{"type":"text","font":"Liberation Mono","fontSize":8.1,"align":"left","baseline":"middle","dy":4.8,"color":"#4a4a4a"},
 "encoding":{
  "x":{"field":"c","type":"quantitative","scale":{"domain":[-33.793,125.812],"nice":false,"zero":false},"axis":null},
  "y":{"field":"g","type":"quantitative","scale":{"domain":[-2.8646,125.573],"nice":false,"zero":false,"reverse":true},"axis":null},
  "text":{"field":"t"}}},
{"data":{"name":"feat"},"transform":[{"filter":"datum.kind == 'Zn binding site'"}],"mark":{"type":"rect","filled":false,"strokeWidth":2},
 "encoding":{
  "x":{"field":"x0","type":"quantitative","scale":{"domain":[-33.793,125.812],"nice":false,"zero":false},"axis":null},
  "x2":{"field":"x1"},
  "y":{"field":"y0","type":"quantitative","scale":{"domain":[-2.8646,125.573],"nice":false,"zero":false,"reverse":true},"axis":null},
  "y2":{"field":"y1"},
  "stroke":{"field":"kind","type":"nominal","scale":{"domain":["Zn binding site"],"range":["#E8131B"]},"legend":{"title":null,"orient":"none","legendX":542,"legendY":582,"symbolType":"M-0.8,-1.25H0.8V1.25H-0.8Z","symbolStrokeWidth":2}}}},
{"data":{"name":"labelsA"},"mark":{"type":"text","font":"Liberation Sans","fontWeight":"bold","fontSize":19,"align":"center","baseline":"middle","color":"#000"},
 "encoding":{
  "x":{"field":"c","type":"quantitative","scale":{"domain":[-33.793,125.812],"nice":false,"zero":false},"axis":null},
  "y":{"field":"g","type":"quantitative","scale":{"domain":[-2.8646,125.573],"nice":false,"zero":false,"reverse":true},"axis":null},
  "text":{"field":"t"}}}
]},
{"layer":[
{"data":{"name":"tree"},"mark":{"type":"rule","color":"#1a1a1a","strokeWidth":1.3},
 "encoding":{
  "x":{"field":"x","type":"quantitative","scale":{"domain":[-0.13636,2.21515],"nice":false,"zero":false},"axis":null},
  "x2":{"field":"x2"},
  "y":{"field":"y","type":"quantitative","scale":{"domain":[-19.444,14.806],"nice":false,"zero":false,"reverse":true},"axis":null},
  "y2":{"field":"y2"}}},
{"data":{"name":"leaves"},"mark":{"type":"text","font":"Liberation Sans","fontSize":14,"align":"left","baseline":"middle","dx":8,"color":"#222"},
 "encoding":{
  "x":{"field":"e","type":"quantitative","scale":{"domain":[-0.13636,2.21515],"nice":false,"zero":false},"axis":null},
  "y":{"field":"i","type":"quantitative","scale":{"domain":[-19.444,14.806],"nice":false,"zero":false,"reverse":true},"axis":null},
  "text":{"field":"name"}}},
{"data":{"name":"boot"},"transform":[{"filter":"datum.pos == 'a'"}],"mark":{"type":"text","font":"Liberation Sans","fontSize":13,"align":"right","baseline":"bottom","dx":-3,"dy":-3,"color":"#222"},
 "encoding":{
  "x":{"field":"x","type":"quantitative","scale":{"domain":[-0.13636,2.21515],"nice":false,"zero":false},"axis":null},
  "y":{"field":"y","type":"quantitative","scale":{"domain":[-19.444,14.806],"nice":false,"zero":false,"reverse":true},"axis":null},
  "text":{"field":"v"}}},
{"data":{"name":"boot"},"transform":[{"filter":"datum.pos == 'b'"}],"mark":{"type":"text","font":"Liberation Sans","fontSize":13,"align":"right","baseline":"top","dx":-3,"dy":4,"color":"#222"},
 "encoding":{
  "x":{"field":"x","type":"quantitative","scale":{"domain":[-0.13636,2.21515],"nice":false,"zero":false},"axis":null},
  "y":{"field":"y","type":"quantitative","scale":{"domain":[-19.444,14.806],"nice":false,"zero":false,"reverse":true},"axis":null},
  "text":{"field":"v"}}},
{"data":{"name":"labelsB"},"mark":{"type":"text","font":"Liberation Sans","align":"center","baseline":"middle","color":"#000"},
 "encoding":{
  "x":{"field":"x","type":"quantitative","scale":{"domain":[-0.13636,2.21515],"nice":false,"zero":false},"axis":null},
  "y":{"field":"y","type":"quantitative","scale":{"domain":[-19.444,14.806],"nice":false,"zero":false,"reverse":true},"axis":null},
  "size":{"field":"s","type":"quantitative","scale":null},
  "fontWeight":{"field":"w","type":"nominal","scale":null},
  "text":{"field":"t"}}}
]}
],
"resolve":{"scale":{"x":"independent","y":"independent","color":"independent","fill":"independent","stroke":"independent","size":"independent"}}
}
